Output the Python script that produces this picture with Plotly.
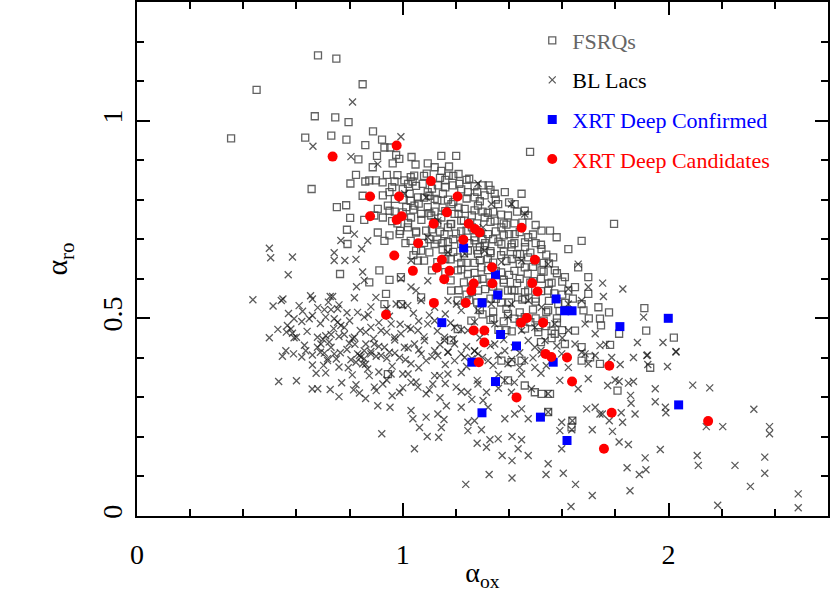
import plotly.graph_objects as go

# FSRQs (open grey squares)
fsrq_x = [0.681, 0.750, 0.849, 0.450, 0.669, 0.746, 0.796, 0.354, 0.633, 0.731, 0.788, 0.859, 0.833, 0.824, 0.803, 0.859, 0.657,
          0.888, 0.922, 0.931, 0.953, 0.903, 0.975, 1.033, 1.145, 1.201, 1.479, 0.887, 0.962, 0.987, 1.048, 1.094, 1.120, 1.174,
          1.145, 1.210, 0.940, 1.043, 1.173, 0.874, 0.899, 0.924, 0.969, 1.006, 1.037, 1.075, 1.132, 1.188, 1.213, 1.301, 1.323,
          0.849, 0.752, 0.787, 0.802, 0.855, 0.790, 0.792, 0.764,
          0.925, 0.950, 1.026, 1.057, 1.094, 1.120, 1.151, 1.245, 1.270, 1.308, 1.346, 1.384, 1.447, 0.906, 0.944, 1.013, 1.044,
          1.094, 1.183, 1.233, 1.283, 1.359, 1.421, 1.472, 1.459,
          0.893, 0.925, 1.031, 1.069, 1.107, 1.145, 1.195, 1.220, 1.308, 1.346, 1.396, 1.522, 1.554, 1.579, 1.673, 0.906, 0.931,
          0.988, 1.019, 1.088, 1.157, 1.182, 1.270, 1.321, 1.371, 1.421, 1.472,
          0.912, 0.950, 0.993, 1.057, 1.069, 1.120, 1.170, 1.207, 1.245, 1.283, 1.308, 1.371, 1.409, 1.441, 1.472, 1.522, 1.566,
          1.623, 1.660, 1.698, 1.459, 1.522, 1.572, 1.610, 1.207, 1.245, 1.296,
          0.937, 0.993, 1.069, 1.182, 1.207, 1.283, 1.396, 1.434, 1.472, 1.547, 1.585, 1.623, 1.673, 1.736, 1.547, 1.648, 1.698,
          1.207, 1.258, 1.396, 1.459, 1.509, 1.572, 1.648, 1.673, 1.610, 1.182, 0.874, 0.931,
          0.944, 1.371, 1.409, 1.447, 1.396, 1.459, 1.497, 1.522, 1.554, 1.547, 1.638, 1.635, 1.673, 1.705,
          1.795, 1.776, 1.909, 1.916, 2.020, 1.814, 1.780, 1.742, 1.746, 1.931, 1.808, 1.742,
          1.00, 1.06, 1.12, 1.17, 1.21, 1.26, 1.30, 1.34, 1.38, 1.42, 1.13, 1.17, 1.22, 1.26, 1.30, 1.34, 1.38, 1.42, 1.46, 1.50,
          1.10, 1.15, 1.19, 1.25, 1.29, 1.33, 1.37, 1.41, 1.49, 1.53, 1.16, 1.22, 1.27, 1.32, 1.35, 1.40, 1.44, 1.48, 1.52, 1.30,
          1.26, 1.34, 1.38, 1.42, 1.46, 1.50, 1.33, 1.37, 1.28, 1.24, 1.02, 1.08, 1.16, 1.24, 1.28, 1.10, 1.15, 1.05, 1.01, 1.04,
          0.97, 0.98, 0.95, 1.56, 1.60, 1.64, 1.68, 1.58, 1.54, 1.50, 1.62, 1.70, 1.44, 1.39, 1.34, 1.30, 1.56, 1.52, 1.60,
          # dense core
          0.98, 1.03, 1.09, 1.14, 1.19, 1.25,
          0.96, 1.00, 1.05, 1.11, 1.16, 1.22, 1.27, 1.33,
          0.97, 1.03, 1.08, 1.13, 1.19, 1.24, 1.29, 1.35, 1.40,
          0.95, 1.00, 1.04, 1.10, 1.16, 1.21, 1.27, 1.32, 1.37, 1.43,
          0.96, 1.02, 1.07, 1.12, 1.18, 1.23, 1.28, 1.33, 1.39, 1.45, 1.50,
          0.99, 1.05, 1.11, 1.14, 1.20, 1.24, 1.29, 1.35, 1.40, 1.44, 1.49,
          1.03, 1.08, 1.13, 1.17, 1.22, 1.27, 1.31, 1.36, 1.41, 1.46, 1.52,
          1.05, 1.10, 1.15, 1.19, 1.23, 1.28, 1.33, 1.38, 1.43, 1.48, 1.54,
          1.08, 1.13, 1.18, 1.24, 1.29, 1.34, 1.39, 1.44, 1.50, 1.55,
          1.11, 1.16, 1.22, 1.27, 1.32, 1.37, 1.42, 1.47, 1.53, 1.58,
          1.18, 1.23, 1.28, 1.33, 1.38, 1.43, 1.49, 1.55, 1.60,
          1.21, 1.26, 1.31, 1.36, 1.41, 1.46, 1.52, 1.57,
          1.25, 1.30, 1.35, 1.40, 1.45, 1.50, 1.55, 1.61,
          1.29, 1.34, 1.39, 1.44, 1.49, 1.54, 1.59,
          1.33, 1.38, 1.42, 1.48, 1.53, 1.58,
          1.36, 1.41, 1.46, 1.51, 1.56]
fsrq_y = [1.165, 1.157, 1.092, 1.078, 1.011, 1.008, 0.996, 0.955, 0.957, 0.962, 0.952, 0.938, 0.902, 0.863, 0.841, 0.846, 0.827,
          0.973, 0.952, 0.932, 0.932, 0.911, 0.913, 0.908, 0.911, 0.911, 0.921, 0.882, 0.892, 0.903, 0.889, 0.892, 0.882, 0.884,
          0.873, 0.865, 0.863, 0.861, 0.861, 0.849, 0.849, 0.844, 0.846, 0.849, 0.846, 0.840, 0.836, 0.836, 0.840, 0.836, 0.836,
          0.810, 0.781, 0.786, 0.754, 0.749, 0.724, 0.688, 0.612,
          0.811, 0.819, 0.815, 0.806, 0.819, 0.802, 0.815, 0.819, 0.806, 0.811, 0.815, 0.819, 0.815, 0.777, 0.785, 0.781, 0.785,
          0.781, 0.789, 0.777, 0.785, 0.789, 0.789, 0.760, 0.772,
          0.760, 0.755, 0.755, 0.764, 0.760, 0.755, 0.764, 0.747, 0.755, 0.747, 0.760, 0.722, 0.722, 0.705, 0.696, 0.717, 0.696,
          0.713, 0.730, 0.722, 0.713, 0.739, 0.705, 0.713, 0.730, 0.713, 0.705,
          0.621, 0.597, 0.604, 0.646, 0.671, 0.688, 0.675, 0.654, 0.671, 0.663, 0.684, 0.688, 0.680, 0.663, 0.654, 0.675, 0.654,
          0.675, 0.629, 0.604, 0.629, 0.621, 0.621, 0.604, 0.621, 0.612, 0.629,
          0.562, 0.536, 0.553, 0.570, 0.545, 0.570, 0.570, 0.553, 0.570, 0.570, 0.536, 0.570, 0.536, 0.528, 0.520, 0.579, 0.562,
          0.473, 0.494, 0.511, 0.503, 0.477, 0.461, 0.469, 0.427, 0.435, 0.444, 0.591, 0.536,
          0.359, 0.393, 0.389, 0.393, 0.343, 0.330, 0.313, 0.309, 0.309, 0.263, 0.241, 0.224, 0.393, 0.401,
          0.739, 0.515, 0.526, 0.469, 0.451, 0.461, 0.433, 0.499, 0.482, 0.375, 0.317, 0.385,
          0.80, 0.79, 0.77, 0.80, 0.78, 0.76, 0.77, 0.77, 0.74, 0.74, 0.74, 0.73, 0.72, 0.73, 0.70, 0.70, 0.71, 0.69, 0.68, 0.69,
          0.70, 0.69, 0.70, 0.69, 0.68, 0.67, 0.66, 0.65, 0.63, 0.64, 0.65, 0.64, 0.64, 0.65, 0.62, 0.61, 0.60, 0.59, 0.60, 0.60,
          0.58, 0.58, 0.59, 0.57, 0.55, 0.55, 0.55, 0.54, 0.54, 0.56, 0.84, 0.86, 0.85, 0.85, 0.82, 0.81, 0.78, 0.72, 0.69, 0.66,
          0.77, 0.74, 0.71, 0.59, 0.56, 0.55, 0.52, 0.50, 0.48, 0.50, 0.52, 0.50, 0.49, 0.47, 0.50, 0.51, 0.45, 0.44, 0.47,
          0.862, 0.857, 0.866, 0.855, 0.860, 0.853,
          0.832, 0.827, 0.835, 0.828, 0.831, 0.826, 0.834, 0.825,
          0.802, 0.797, 0.805, 0.799, 0.794, 0.803, 0.796, 0.800, 0.793,
          0.772, 0.768, 0.775, 0.766, 0.771, 0.764, 0.773, 0.767, 0.762, 0.770,
          0.746, 0.741, 0.749, 0.743, 0.738, 0.747, 0.740, 0.744, 0.737, 0.742, 0.736,
          0.721, 0.717, 0.725, 0.719, 0.714, 0.722, 0.716, 0.720, 0.713, 0.718, 0.712,
          0.696, 0.691, 0.699, 0.693, 0.688, 0.697, 0.690, 0.694, 0.687, 0.692, 0.686,
          0.671, 0.667, 0.674, 0.668, 0.664, 0.672, 0.665, 0.669, 0.662, 0.666, 0.661,
          0.646, 0.642, 0.649, 0.640, 0.647, 0.641, 0.645, 0.638, 0.644, 0.639,
          0.621, 0.617, 0.624, 0.615, 0.622, 0.616, 0.620, 0.613, 0.618, 0.614,
          0.596, 0.591, 0.598, 0.590, 0.597, 0.589, 0.594, 0.588, 0.593,
          0.571, 0.567, 0.574, 0.565, 0.572, 0.566, 0.569, 0.563,
          0.546, 0.541, 0.549, 0.540, 0.547, 0.542, 0.544, 0.539,
          0.521, 0.517, 0.524, 0.515, 0.522, 0.516, 0.519,
          0.496, 0.492, 0.499, 0.490, 0.494, 0.489,
          0.471, 0.467, 0.474, 0.465, 0.469]

# BL Lacs (crosses)
bllac_x = [0.811, 0.662, 0.805, 0.993, 0.906, 1.283,
           0.818, 0.767, 0.845, 0.498, 0.503, 0.585, 0.742, 0.742, 0.782, 0.824, 0.569, 0.849, 0.855, 0.826, 0.436, 0.512,
           0.543, 0.549, 0.653, 0.660, 0.727, 0.736, 0.720, 0.818, 0.623, 0.648, 0.705, 0.730, 0.755, 0.710, 0.742, 0.767,
           0.755, 0.830, 0.855, 0.591, 0.566, 0.579, 0.562, 0.585, 0.591, 0.498, 0.679, 0.710, 0.730, 0.723, 0.780, 0.811,
           0.818, 0.799, 0.692, 0.679, 0.660, 0.635, 0.547, 0.589, 0.742, 0.765, 0.717, 0.830, 0.843, 0.855, 0.861, 0.861, 0.780,
           0.705, 0.717, 0.702, 0.674, 0.533, 0.659, 0.727, 0.795, 0.805, 0.824, 0.837, 0.855, 0.849, 0.868, 0.824, 0.815, 0.837,
           0.880, 0.918, 0.950, 0.988, 1.031, 1.069, 1.088, 1.132, 1.170, 1.195, 1.233, 1.283, 1.321, 1.359, 1.396, 1.459, 1.497,
           1.522, 1.598, 1.623, 1.673, 1.698, 1.724,
           0.874, 0.893, 0.925, 0.956, 0.988, 1.000, 1.031, 1.057, 1.088, 1.113, 1.139, 1.170, 1.201, 1.245, 1.283, 1.315, 1.384,
           1.409, 1.447, 1.484, 1.547, 1.591, 1.660, 1.698,
           0.906, 0.952, 1.031, 1.038, 1.088, 1.132, 1.155, 1.164, 1.220, 1.245, 1.270, 1.302, 1.321, 1.384, 1.421, 1.447, 1.472,
           1.547, 1.598, 1.638, 1.692, 1.724,
           0.921, 1.044, 1.063, 1.092, 1.135, 1.145, 1.245, 1.280, 1.296, 1.315, 1.328, 1.359, 1.374, 1.411, 1.434, 1.447, 1.472,
           1.411, 1.547, 1.591, 1.598, 1.636, 1.713,
           1.325, 1.237, 1.411, 1.539, 1.604, 1.650, 1.713, 1.633,
           1.786, 1.868, 1.918, 2.028, 1.818, 1.996, 1.922, 1.771, 1.799, 1.814, 1.849, 1.868, 1.950, 2.091, 2.155, 1.857, 1.859,
           1.950, 1.742, 1.751, 1.822, 1.874, 1.988, 1.990, 1.777, 1.827, 1.789, 1.814, 1.849, 1.969, 1.912, 1.844, 1.890, 1.915,
           1.855, 2.142, 2.204, 2.321, 2.380, 2.380, 2.108, 2.112, 2.250, 2.362, 2.362, 2.308, 2.185, 2.488, 2.488,
           1.752, 1.828, 1.755, 1.906, 1.883, 1.979, 2.028, 1.921, 1.742, 1.764,
           1.007, 1.088, 1.333, 1.409, 1.459, 1.132, 1.302, 1.094, 1.031, 1.170, 1.233, 1.308, 1.371, 1.447, 1.547, 1.660, 1.623,
           1.698, 0.868,
           0.993, 1.031, 1.050, 1.094, 0.899, 0.975, 1.019, 1.069, 1.170, 1.202, 1.220, 1.283, 1.333, 1.409, 1.472, 1.522, 1.623,
           1.673, 0.880, 0.918, 0.956, 0.993, 1.019, 1.057, 1.094, 1.120, 1.157, 1.195, 1.245, 1.346, 1.396, 1.447, 1.497, 1.572,
           1.623, 1.686, 0.893, 0.931, 0.969, 1.006, 1.044, 1.082, 1.120, 1.157, 1.195, 1.220, 1.270, 1.346, 1.384, 1.472, 1.497,
           1.535, 1.648, 1.686, 1.724,
           # dense lower band
           0.61, 0.68, 0.76, 0.88, 0.94, 1.00, 1.12,
           0.57, 0.66, 0.79, 0.87, 0.95, 1.04, 1.10, 1.16,
           0.62, 0.69, 0.80, 0.91, 0.99, 1.06, 1.18, 1.27,
           0.53, 0.64, 0.74, 0.84, 0.94, 1.03, 1.13, 1.22, 1.31,
           0.60, 0.70, 0.76, 0.89, 0.97, 1.08, 1.19, 1.29, 1.38, 1.60,
           0.63, 0.73, 0.82, 0.91, 1.02, 1.14, 1.24, 1.33, 1.42, 1.58,
           0.56, 0.69, 0.79, 0.88, 0.97, 1.06, 1.17, 1.27, 1.44, 1.52,
           0.62, 0.75, 0.90, 0.94, 1.01, 1.11, 1.26, 1.30, 1.41, 1.49,
           0.66, 0.76, 0.86, 0.96, 1.06, 1.16, 1.24, 1.34, 1.44, 1.54,
           0.71, 0.81, 0.91, 1.02, 1.12, 1.22, 1.36, 1.52,
           0.60, 0.77, 0.94, 1.05, 1.16, 1.28, 1.42,
           0.68, 0.90, 1.00, 1.10, 1.22, 1.36,
           0.76, 0.86, 0.96, 1.14, 1.26]
bllac_y = [1.047, 0.935, 0.909, 0.959, 0.890, 0.841,
           0.713, 0.697, 0.676, 0.677, 0.653, 0.655, 0.666, 0.646, 0.646, 0.649, 0.610, 0.617, 0.596, 0.580, 0.547, 0.531,
           0.545, 0.549, 0.557, 0.549, 0.555, 0.555, 0.541, 0.552, 0.518, 0.499, 0.522, 0.522, 0.524, 0.503, 0.499, 0.482,
           0.490, 0.515, 0.503, 0.499, 0.482, 0.473, 0.465, 0.462, 0.451, 0.451, 0.452, 0.456, 0.459, 0.440, 0.459, 0.449,
           0.452, 0.437, 0.435, 0.427, 0.407, 0.418, 0.404, 0.410, 0.410, 0.413, 0.398, 0.410, 0.402, 0.418, 0.465, 0.435, 0.477,
           0.412, 0.393, 0.381, 0.361, 0.340, 0.321, 0.320, 0.375, 0.395, 0.389, 0.406, 0.398, 0.385, 0.372, 0.332, 0.319, 0.311,
           0.410, 0.406, 0.414, 0.401, 0.385, 0.410, 0.393, 0.406, 0.414, 0.393, 0.401, 0.410, 0.393, 0.406, 0.385, 0.393, 0.376,
           0.410, 0.410, 0.376, 0.414, 0.385, 0.406,
           0.355, 0.326, 0.334, 0.359, 0.313, 0.359, 0.338, 0.326, 0.309, 0.334, 0.355, 0.359, 0.326, 0.313, 0.334, 0.313, 0.343,
           0.313, 0.359, 0.322, 0.309, 0.343, 0.322, 0.347,
           0.279, 0.275, 0.267, 0.246, 0.250, 0.258, 0.244, 0.279, 0.275, 0.237, 0.241, 0.292, 0.275, 0.246, 0.258, 0.271, 0.246,
           0.263, 0.237, 0.241, 0.271, 0.275,
           0.208, 0.170, 0.224, 0.201, 0.199, 0.224, 0.216, 0.184, 0.218, 0.174, 0.193, 0.195, 0.153, 0.201, 0.170, 0.193, 0.153,
           0.140, 0.132, 0.216, 0.170, 0.218, 0.218,
           0.105, 0.080, 0.096, 0.105, 0.108, 0.080, 0.052, 0.024,
           0.401, 0.401, 0.406, 0.415, 0.383, 0.378, 0.383, 0.330, 0.344, 0.340, 0.336, 0.340, 0.322, 0.331, 0.324, 0.305, 0.285,
           0.289, 0.258, 0.258, 0.261, 0.258, 0.275, 0.261, 0.241, 0.237, 0.214, 0.187, 0.181, 0.168, 0.147, 0.122, 0.105, 0.117,
           0.064, 0.226, 0.226, 0.270, 0.226, 0.208, 0.153, 0.128, 0.128, 0.149, 0.108, 0.075, 0.027, 0.056, 0.021,
           0.589, 0.574, 0.555, 0.503, 0.439, 0.439, 0.416, 0.407, 0.431, 0.434,
           0.815, 0.806, 0.789, 0.789, 0.764, 0.747, 0.730, 0.705, 0.646, 0.667, 0.663, 0.671, 0.642, 0.646, 0.637, 0.637, 0.574,
           0.579, 0.696,
           0.600, 0.579, 0.570, 0.595, 0.553, 0.536, 0.532, 0.545, 0.545, 0.536, 0.520, 0.520, 0.536, 0.536, 0.545, 0.528, 0.536,
           0.545, 0.477, 0.469, 0.486, 0.461, 0.477, 0.469, 0.486, 0.494, 0.452, 0.477, 0.469, 0.486, 0.503, 0.469, 0.477, 0.486,
           0.469, 0.486, 0.435, 0.427, 0.452, 0.427, 0.435, 0.444, 0.418, 0.444, 0.435, 0.410, 0.418, 0.435, 0.418, 0.444, 0.427,
           0.444, 0.435, 0.410, 0.461,
           0.532, 0.527, 0.534, 0.529, 0.525, 0.533, 0.528,
           0.512, 0.507, 0.514, 0.509, 0.505, 0.513, 0.508, 0.511,
           0.492, 0.487, 0.494, 0.489, 0.485, 0.493, 0.488, 0.491,
           0.472, 0.467, 0.474, 0.469, 0.465, 0.473, 0.468, 0.471, 0.466,
           0.452, 0.447, 0.454, 0.449, 0.445, 0.453, 0.448, 0.451, 0.446, 0.450,
           0.432, 0.427, 0.434, 0.429, 0.425, 0.433, 0.428, 0.431, 0.426, 0.430,
           0.418, 0.414, 0.421, 0.416, 0.412, 0.420, 0.415, 0.417, 0.413, 0.419,
           0.402, 0.397, 0.404, 0.399, 0.395, 0.403, 0.398, 0.401, 0.396, 0.400,
           0.382, 0.377, 0.384, 0.379, 0.375, 0.383, 0.378, 0.381, 0.376, 0.380,
           0.362, 0.357, 0.364, 0.359, 0.355, 0.363, 0.358, 0.361,
           0.342, 0.337, 0.344, 0.339, 0.335, 0.343, 0.338,
           0.322, 0.317, 0.324, 0.319, 0.315, 0.323,
           0.302, 0.297, 0.304, 0.299, 0.295]

# XRT Deep confirmed (blue squares)
conf_x = [1.229, 1.349, 1.357, 1.298, 1.577, 1.609, 1.637, 1.147, 1.368, 1.428, 1.260, 1.566, 1.349, 1.298, 1.518, 1.618,
          1.817, 1.999, 2.038]
conf_y = [0.678, 0.610, 0.559, 0.539, 0.549, 0.519, 0.519, 0.489, 0.459, 0.430, 0.389, 0.389, 0.340, 0.261, 0.250, 0.191,
          0.479, 0.500, 0.281]

# XRT Deep candidates (red circles)
cand_x = [0.736, 0.977, 1.106, 0.877, 0.986, 1.206, 0.877, 0.977, 0.996, 1.166, 1.116, 1.248, 1.272, 1.289, 1.447, 1.228,
          1.058, 0.968, 1.147, 1.128, 1.038, 1.176, 1.156, 1.336, 1.497, 1.267, 1.337, 1.487, 1.258, 1.507, 1.117, 1.237,
          0.937, 1.445, 1.467, 1.528, 1.267, 1.307, 1.307, 1.537, 1.559, 1.618, 1.286, 1.637, 1.428, 1.777, 1.786, 1.757,
          2.149]
cand_y = [0.909, 0.937, 0.847, 0.808, 0.808, 0.808, 0.758, 0.749, 0.758, 0.768, 0.739, 0.739, 0.726, 0.717, 0.729, 0.699,
          0.690, 0.659, 0.648, 0.628, 0.620, 0.620, 0.599, 0.629, 0.648, 0.588, 0.588, 0.589, 0.570, 0.568, 0.539, 0.539,
          0.509, 0.489, 0.501, 0.489, 0.469, 0.469, 0.439, 0.410, 0.402, 0.401, 0.389, 0.340, 0.300, 0.380, 0.261, 0.170,
          0.240]

FONT = "Liberation Serif, Times New Roman, serif"

fig = go.Figure()
fig.add_trace(go.Scatter(x=fsrq_x, y=fsrq_y, mode="markers", legendgroup="a",
                         name='<span style="color:#666666">FSRQs</span>',
                         marker=dict(symbol="square-open", size=7, color="rgba(70,70,70,0.85)",
                                     line=dict(width=1.3))))
fig.add_trace(go.Scatter(x=bllac_x, y=bllac_y, mode="markers", legendgroup="b",
                         name='<span style="color:black">BL Lacs</span>',
                         marker=dict(symbol="x-thin-open", size=7, color="rgba(20,20,20,0.7)",
                                     line=dict(width=1.3, color="rgba(20,20,20,0.7)"))))
fig.add_trace(go.Scatter(x=conf_x, y=conf_y, mode="markers", legendgroup="c",
                         name='<span style="color:blue">XRT Deep Confirmed</span>',
                         marker=dict(symbol="square", size=9, color="#0000ff")))
fig.add_trace(go.Scatter(x=cand_x, y=cand_y, mode="markers", legendgroup="d",
                         name='<span style="color:red">XRT Deep Candidates</span>',
                         marker=dict(symbol="circle", size=10, color="#ff0000")))

axis_common = dict(showline=True, linewidth=2, linecolor="black", mirror="ticks", ticks="inside",
                   ticklen=13, tickwidth=2, tickcolor="black", showgrid=False, zeroline=False,
                   automargin=False, tickfont=dict(family=FONT, size=28, color="black"))

fig.update_xaxes(range=[0, 2.6], tick0=0, dtick=1, ticklabelstandoff=12,
                 minor=dict(dtick=0.2, ticks="inside", ticklen=7, tickwidth=2, tickcolor="black"),
                 title=dict(text="α<sub>ox</sub>", font=dict(family=FONT, size=28, color="black"), standoff=0),
                 **axis_common)
fig.update_yaxes(range=[0, 1.3], tick0=0, dtick=0.5, tickangle=-90, ticklabelstandoff=2,
                 minor=dict(dtick=0.1, ticks="inside", ticklen=7, tickwidth=2, tickcolor="black"),
                 title=dict(text="α<sub>ro</sub>", font=dict(family=FONT, size=30, color="black"), standoff=20),
                 **axis_common)

fig.update_layout(
    width=830, height=592,
    margin=dict(l=137, r=2, t=2, b=76),
    plot_bgcolor="white", paper_bgcolor="white",
    legend=dict(x=0.572, y=0.966, xanchor="left", yanchor="top", traceorder="grouped",
                tracegroupgap=8, itemwidth=30, bgcolor="rgba(0,0,0,0)",
                font=dict(family=FONT, size=22)),
)

# drop the default body margin so the figure sits at the page corner
fig.write_html("out.html", config={"displayModeBar": False},
               post_script="document.body.style.margin='0';")
